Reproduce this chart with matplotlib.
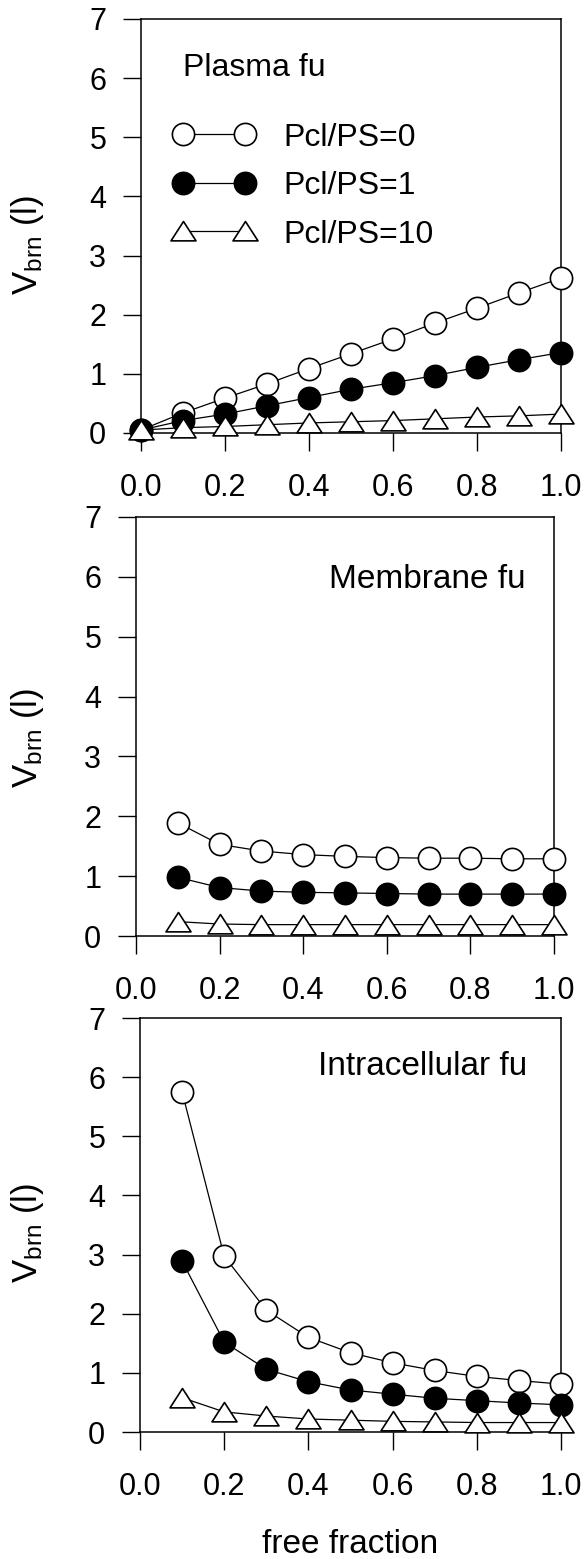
import numpy as np
import matplotlib
matplotlib.use("Agg")
import matplotlib.pyplot as plt
from matplotlib.path import Path

# -----------------------------------
# Data
# -----------------------------------
fu_plasma = [0.0, 0.1, 0.2, 0.3, 0.4, 0.5, 0.6, 0.7, 0.8, 0.9, 1.0]
plasma_ps0 = [0.05, 0.34, 0.59, 0.83, 1.09, 1.34, 1.59, 1.86, 2.11, 2.37, 2.62]
plasma_ps1 = [0.05, 0.21, 0.32, 0.46, 0.60, 0.74, 0.85, 0.97, 1.11, 1.24, 1.36]
plasma_ps10 = [0.05, 0.09, 0.11, 0.14, 0.17, 0.19, 0.21, 0.24, 0.27, 0.29, 0.32]

fu = [0.1, 0.2, 0.3, 0.4, 0.5, 0.6, 0.7, 0.8, 0.9, 1.0]
membrane_ps0 = [1.89, 1.53, 1.42, 1.36, 1.33, 1.31, 1.30, 1.30, 1.29, 1.29]
membrane_ps1 = [0.98, 0.81, 0.75, 0.73, 0.72, 0.71, 0.70, 0.70, 0.70, 0.70]
membrane_ps10 = [0.24, 0.20, 0.19, 0.19, 0.19, 0.19, 0.19, 0.19, 0.19, 0.19]

intra_ps0 = [5.75, 2.97, 2.06, 1.60, 1.34, 1.17, 1.04, 0.94, 0.87, 0.81]
intra_ps1 = [2.89, 1.52, 1.06, 0.85, 0.71, 0.64, 0.57, 0.53, 0.49, 0.46]
intra_ps10 = [0.58, 0.34, 0.27, 0.22, 0.20, 0.18, 0.17, 0.16, 0.16, 0.16]

series_labels = ["Pcl/PS=0", "Pcl/PS=1", "Pcl/PS=10"]
x_ticks = [0.0, 0.2, 0.4, 0.6, 0.8, 1.0]
y_ticks = [0, 1, 2, 3, 4, 5, 6, 7]

# -----------------------------------
# Style
# -----------------------------------
plt.rcParams['font.family'] = ['Liberation Sans', 'DejaVu Sans']
plt.rcParams['mathtext.fontset'] = 'custom'
plt.rcParams['mathtext.rm'] = 'Liberation Sans'

TICK_FS = 22
# flat open triangle, closed path
tri = Path([(-1, -0.75), (1, -0.75), (0, 0.8), (-1, -0.75)],
           [Path.MOVETO, Path.LINETO, Path.LINETO, Path.CLOSEPOLY])
styles = [
    dict(marker='o', mfc='white', mec='black', ms=16, mew=1.2),
    dict(marker='o', mfc='black', mec='black', ms=16, mew=1.2),
    dict(marker=tri, mfc='white', mec='black', ms=18, mew=1.2),
]

W, H = 586, 1559
fig = plt.figure(figsize=(W / 100, H / 100), dpi=100)

# axes boxes in pixels: left, top, right, bottom
boxes = [(141, 19, 561, 433), (136, 517, 554, 936), (140, 1018, 561, 1432)]
label_y = [245, 738, 1233]  # vertical centre of the y label (pixels)
panels = [
    (fu_plasma, [plasma_ps0, plasma_ps1, plasma_ps10]),
    (fu, [membrane_ps0, membrane_ps1, membrane_ps10]),
    (fu, [intra_ps0, intra_ps1, intra_ps10]),
]

axes = []
for (l, t, r, b), ly, (xs, ys_list) in zip(boxes, label_y, panels):
    ax = fig.add_axes([l / W, 1 - b / H, (r - l) / W, (b - t) / H])
    handles = []
    for ys, st in zip(ys_list, styles):
        h, = ax.plot(xs, ys, color='black', lw=0.9, clip_on=False, zorder=3, **st)
        handles.append(h)
    ax.set_xlim(0, 1.0)
    ax.set_ylim(0, 7)
    ax.set_xticks(x_ticks)
    ax.set_xticklabels([f"{v:.1f}" for v in x_ticks])
    ax.set_yticks(y_ticks)
    ax.tick_params(axis='x', direction='out', length=13, width=1.0, pad=16,
                   labelsize=TICK_FS)
    ax.tick_params(axis='y', direction='out', length=13, width=1.0, pad=12,
                   labelsize=TICK_FS)
    for sp in ax.spines.values():
        sp.set_linewidth(1.1)
    fig.text(28 / W, 1 - ly / H, r'$\mathregular{V_{brn}}$ (l)', fontsize=25,
             rotation=90, ha='center', va='center')
    axes.append((ax, handles))

# panel annotations
ax1, h1 = axes[0]
ax1.text(0.10, 0.882, "Plasma fu", transform=ax1.transAxes, fontsize=23,
         ha='left', va='center')
ax1.legend(h1, series_labels, loc='upper left', bbox_to_anchor=(0.076, 0.75),
           frameon=False, numpoints=2, fontsize=23, handlelength=2.55,
           handletextpad=0.9, labelspacing=0.58, borderpad=0, borderaxespad=0)

ax2, _ = axes[1]
ax2.text(0.933, 0.85, "Membrane fu", transform=ax2.transAxes, fontsize=24,
         ha='right', va='center')

ax3, _ = axes[2]
ax3.text(0.92, 0.884, "Intracellular fu", transform=ax3.transAxes, fontsize=24,
         ha='right', va='center')
ax3.set_xlabel("free fraction", fontsize=24, labelpad=19)

fig.savefig("out.png", dpi=100)
